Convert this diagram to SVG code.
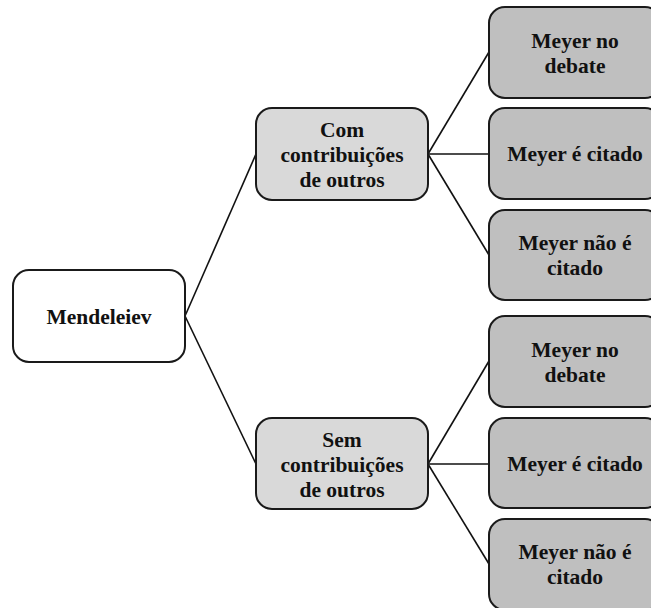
<svg xmlns="http://www.w3.org/2000/svg" width="651" height="608" viewBox="0 0 651 608">
<style>
.box{stroke:#1a1a1a;stroke-width:2}
.root{fill:#ffffff}
.mid{fill:#d9d9d9}
.leaf{fill:#bfbfbf}
text{font-family:"Liberation Serif","Times New Roman",serif;font-weight:bold;font-size:21.5px;fill:#111;text-anchor:middle}
.conn line{stroke:#111;stroke-width:1.6}
</style>
<rect width="651" height="608" fill="#ffffff"/>
<g class="conn">
<line x1="185" y1="316" x2="256" y2="154"/>
<line x1="185" y1="316" x2="256" y2="464"/>
<line x1="428" y1="154" x2="489" y2="52"/>
<line x1="428" y1="154" x2="489" y2="154"/>
<line x1="428" y1="154" x2="489" y2="255"/>
<line x1="428" y1="464" x2="489" y2="361"/>
<line x1="428" y1="464" x2="489" y2="464"/>
<line x1="428" y1="464" x2="489" y2="564"/>
</g>
<g id="mendeleiev"><rect class="box root" x="13" y="270" width="172" height="92" rx="16"/><text x="99" y="324">Mendeleiev</text></g>
<g id="com"><rect class="box mid" x="256" y="108" width="172" height="92" rx="16"/><text x="342" y="137">Com</text><text x="342" y="162">contribuições</text><text x="342" y="187">de outros</text></g>
<g id="sem"><rect class="box mid" x="256" y="418" width="172" height="91" rx="16"/><text x="342" y="447">Sem</text><text x="342" y="472">contribuições</text><text x="342" y="497">de outros</text></g>
<g id="com-debate"><rect class="box leaf" x="489" y="7" width="172" height="91" rx="16"/><text x="575" y="48">Meyer no</text><text x="575" y="73">debate</text></g>
<g id="com-citado"><rect class="box leaf" x="489" y="108" width="172" height="91" rx="16"/><text x="575" y="161">Meyer é citado</text></g>
<g id="com-nao"><rect class="box leaf" x="489" y="210" width="172" height="90" rx="16"/><text x="575" y="250">Meyer não é</text><text x="575" y="275">citado</text></g>
<g id="sem-debate"><rect class="box leaf" x="489" y="316" width="172" height="91" rx="16"/><text x="575" y="357">Meyer no</text><text x="575" y="382">debate</text></g>
<g id="sem-citado"><rect class="box leaf" x="489" y="418" width="172" height="90" rx="16"/><text x="575" y="471">Meyer é citado</text></g>
<g id="sem-nao"><rect class="box leaf" x="489" y="519" width="172" height="91" rx="16"/><text x="575" y="559">Meyer não é</text><text x="575" y="584">citado</text></g>
</svg>
